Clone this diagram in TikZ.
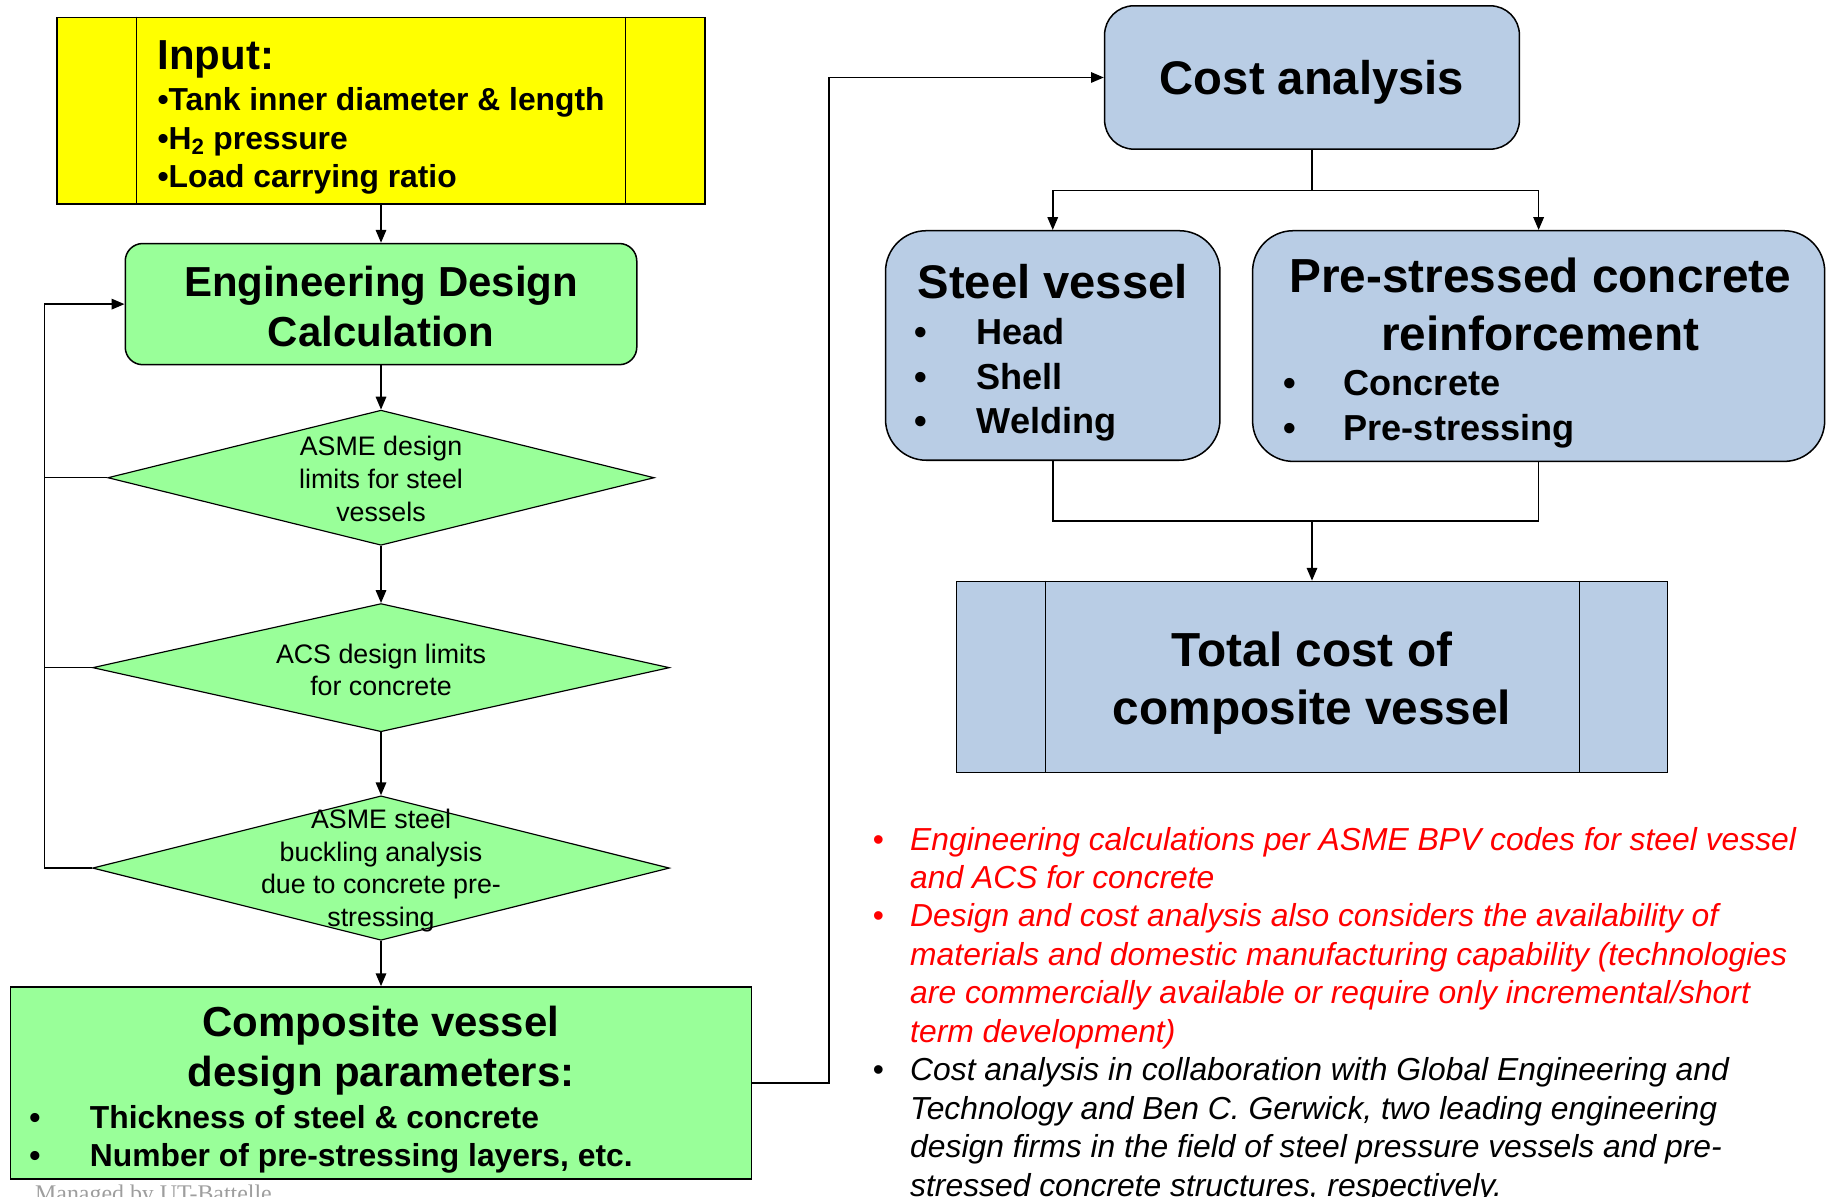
\documentclass[tikz,border=0pt]{standalone}
\usepackage{fontspec}
\setmainfont{Liberation Sans}
\newfontfamily\footerfont{Liberation Serif}
\usetikzlibrary{shapes.geometric,arrows.meta,calc}
\definecolor{boxyellow}{RGB}{255,255,0}
\definecolor{boxgreen}{RGB}{153,255,153}
\definecolor{boxblue}{RGB}{185,205,229}
\definecolor{notered}{RGB}{255,0,0}
\newcommand\setfs[2]{\fontsize{#1}{#2}\selectfont}
\newcommand\bul[1]{\makebox[#1][l]{\upshape\textbullet}}
\tikzset{
  box/.style={draw=black, line width=1.3pt, inner sep=0pt},
  dia/.style={diamond, draw=black, line width=1pt, fill=boxgreen, inner sep=0pt},
  dtext/.style={inner sep=0pt, align=center, font=\setfs{23}{28}},
  txt/.style={inner sep=0pt, align=center},
  list/.style={anchor=west, inner sep=0pt, align=left},
  conn/.style={line width=1.3pt},
  arr/.style={conn, -{Triangle[length=11pt,width=9pt]}},
}
\begin{document}
\begin{tikzpicture}[x=1pt,y=-1pt]
\path[use as bounding box, clip] (0,0) rectangle (1568,1027);
\fill[white] (0,0) rectangle (1568,1027);

% ---------- left column: design loop ----------
\node[box, fill=boxyellow, minimum width=556pt, minimum height=160pt] (inp) at (327,95) {};
\draw[line width=1.3pt] ([xshift=69pt]inp.north west) -- ([xshift=69pt]inp.south west);
\draw[line width=1.3pt] ([xshift=-69pt]inp.north east) -- ([xshift=-69pt]inp.south east);
\node[anchor=west, inner sep=0pt, font=\bfseries\setfs{36}{40}] at (135,51) {Input:};
\node[list, font=\bfseries\setfs{27.3}{33}] at (135,121) {\textbullet Tank inner diameter \& length\\\textbullet H\textsubscript{2} pressure\\\textbullet Load carrying ratio};

\node[box, rounded corners=15pt, fill=boxgreen, minimum width=439pt, minimum height=104pt] (edc) at (327,261) {};
\node[txt, font=\bfseries\setfs{36}{43}] at (327,263) {Engineering Design\\Calculation};

\node[dia, minimum width=469pt, minimum height=116pt] (d1) at (327,410) {};
\node[dtext] at (327,411) {ASME design\\limits for steel\\vessels};

\node[dia, minimum width=495pt, minimum height=110pt] (d2) at (327,573) {};
\node[dtext] at (327,575) {ACS design limits\\for concrete};

\node[dia, minimum width=495pt, minimum height=124pt] (d3) at (327,745) {};
\node[dtext] at (327,747) {ASME steel\\buckling analysis\\due to concrete pre-\\stressing};

\node[box, fill=boxgreen, minimum width=636pt, minimum height=165pt] (comp) at (327,929.5) {};
\node[txt, font=\bfseries\setfs{36}{43}] at (327,902) {Composite vessel\\design parameters:};
\node[list, font=\bfseries\setfs{27.3}{33}] at (25,978) {\bul{52pt}Thickness of steel \& concrete\\\bul{52pt}Number of pre-stressing layers, etc.};

% ---------- right column: cost breakdown ----------
\node[box, rounded corners=25pt, fill=boxblue, minimum width=356pt, minimum height=123pt] (cost) at (1126,66.5) {};
\node[txt, font=\bfseries\setfs{40.5}{48}] at (1126,70.5) {Cost analysis};

\node[box, rounded corners=35pt, fill=boxblue, minimum width=287pt, minimum height=197pt] (steel) at (903.5,296.5) {};
\node[txt, font=\bfseries\setfs{40.5}{48}] at (903.5,242) {Steel vessel};
\node[list, font=\bfseries\setfs{31}{38.5}] at (785,326) {\bul{53pt}Head\\\bul{53pt}Shell\\\bul{53pt}Welding};

\node[box, rounded corners=35pt, fill=boxblue, minimum width=491pt, minimum height=198pt] (pre) at (1320.5,297) {};
\node[txt, font=\bfseries\setfs{41}{50}] at (1322,261) {Pre-stressed concrete\\reinforcement};
\node[list, font=\bfseries\setfs{31}{39}] at (1101,351) {\bul{52pt}Concrete\\\bul{52pt}Pre-stressing};

\node[box, fill=boxblue, minimum width=610pt, minimum height=164pt] (total) at (1126,581) {};
\node[txt, font=\bfseries\setfs{41}{50}] at (1126,586) {Total cost of\\composite vessel};
\draw[line width=1.3pt] ([xshift=77pt]total.north west) -- ([xshift=77pt]total.south west);
\draw[line width=1.3pt] ([xshift=-76pt]total.north east) -- ([xshift=-76pt]total.south east);

% ---------- notes ----------
\node[list, font=\itshape\setfs{27.3}{33}] at (749,871) {%
\textcolor{notered}{\bul{32pt}Engineering calculations per ASME BPV codes for steel vessel}\\
\textcolor{notered}{\hspace*{32pt}and ACS for concrete}\\
\textcolor{notered}{\bul{32pt}Design and cost analysis also considers the availability of}\\
\textcolor{notered}{\hspace*{32pt}materials and domestic manufacturing capability (technologies}\\
\textcolor{notered}{\hspace*{32pt}are commercially available or require only incremental/short}\\
\textcolor{notered}{\hspace*{32pt}term development)}\\
\bul{32pt}Cost analysis in collaboration with Global Engineering and\\
\hspace*{32pt}Technology and Ben C. Gerwick, two leading engineering\\
\hspace*{32pt}design firms in the field of steel pressure vessels and pre-\\
\hspace*{32pt}stressed concrete structures, respectively.};

\node[anchor=base west, inner sep=0pt, text=black!38, font=\footerfont\setfs{20.5}{24}] at (30,1031) {Managed by UT-Battelle};

% ---------- connectors ----------
\draw[arr] (inp.south) -- (edc.north);
\draw[arr] (edc.south) -- (d1.north);
\draw[arr] (d1.south) -- (d2.north);
\draw[arr] (d2.south) -- (d3.north);
\draw[arr] (d3.south) -- (comp.north);
\coordinate (loop) at (38,745);
\draw[arr] (d3.west) -- (loop) |- (edc.west);
\draw[conn] (d1.west) -- (d1.west -| loop);
\draw[conn] (d2.west) -- (d2.west -| loop);
\draw[arr] (comp.east) -- ++(66,0) |- (cost.west);
\draw[arr] (cost.south) -- ++(0,35) -| (steel.north);
\draw[arr] (cost.south) -- ++(0,35) -| (pre.north);
\coordinate (join) at (1126,447);
\draw[conn] (steel.south) |- (join) -| (pre.south);
\draw[arr] (join) -- (total.north);
\end{tikzpicture}
\end{document}
